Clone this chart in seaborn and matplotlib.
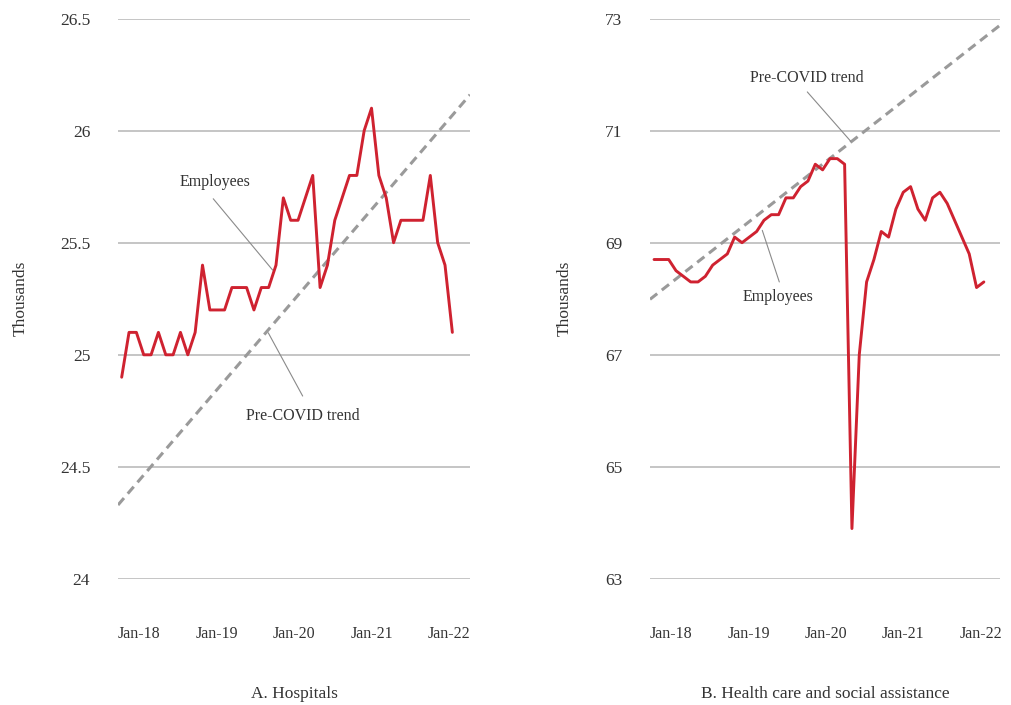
import numpy as np
import pandas as pd
import matplotlib
matplotlib.use("Agg")
import matplotlib.pyplot as plt
import seaborn as sns

# ---------------- data ----------------
months = list(range(46))  # Jan-2018 ... Oct-2021 (monthly index)

hospitals = [24.9, 25.1, 25.1, 25.0, 25.0, 25.1, 25.0, 25.0, 25.1, 25.0, 25.1,
             25.4, 25.2, 25.2, 25.2, 25.3, 25.3, 25.3, 25.2, 25.3, 25.3, 25.4,
             25.7, 25.6, 25.6, 25.7, 25.8,
             25.3, 25.4, 25.6, 25.7, 25.8, 25.8, 26.0, 26.1,
             25.8, 25.7, 25.5, 25.6, 25.6, 25.6, 25.6, 25.8, 25.5, 25.4, 25.1]

health = [68.7, 68.7, 68.7, 68.5, 68.4, 68.3, 68.3, 68.4, 68.6, 68.7, 68.8,
          69.1, 69.0, 69.1, 69.2, 69.4, 69.5, 69.5, 69.8, 69.8, 70.0, 70.1,
          70.4, 70.3, 70.5, 70.5, 70.4, 63.9, 67.0, 68.3, 68.7, 69.2, 69.1,
          69.6, 69.9, 70.0, 69.6, 69.4, 69.8, 69.9, 69.7, 69.4, 69.1, 68.8,
          68.2, 68.3]

# pre-COVID trend lines (end points over the shown range)
hosp_trend_x = [-0.5, 47.4]
hosp_trend_y = [24.33, 26.16]
health_trend_x = [-0.55, 47.2]
health_trend_y = [67.99, 72.88]

tick_labels = ["Jan-18", "Jan-19", "Jan-20", "Jan-21", "Jan-22"]
tick_pos = [2.3, 12.9, 23.45, 34.0, 44.6]

hosp_yticks = [24, 24.5, 25, 25.5, 26, 26.5]
hosp_ylabels = ["24", "24.5", "25", "25.5", "26", "26.5"]
health_yticks = [63, 65, 67, 69, 71, 73]

titles = ["A. Hospitals", "B. Health care and social assistance"]

# ---------------- style ----------------
sns.set_style("white")
plt.rcParams['font.family'] = ['Liberation Serif', 'DejaVu Serif']

RED = '#cf2230'
TREND = '#9a9a9a'
GRID = '#c0c0c0'
TXT = '#333333'
LEAD = '#8a8a8a'

fig = plt.figure(figsize=(10.11, 7.05), dpi=100)
axL = fig.add_axes([118/1011, (705-579)/705, 352/1011, 560.5/705])
axR = fig.add_axes([650/1011, (705-579)/705, 350/1011, 560.5/705])

df_h = pd.DataFrame({"month": months, "value": hospitals})
df_s = pd.DataFrame({"month": months, "value": health})
df_ht = pd.DataFrame({"month": hosp_trend_x, "value": hosp_trend_y})
df_st = pd.DataFrame({"month": health_trend_x, "value": health_trend_y})

def setup(ax, yticks, ylabels, ylim, xlim, title, ylab_x):
    ax.set_xlim(*xlim)
    ax.set_ylim(*ylim)
    ax.set_yticks(yticks)
    ax.set_yticklabels(ylabels)
    ax.set_xticks(tick_pos)
    ax.set_xticklabels(tick_labels)
    for s in ax.spines.values():
        s.set_visible(False)
    ax.grid(False)
    for yv in yticks:
        ax.axhline(yv, color=GRID, lw=1.3, zorder=0)
    ax.tick_params(axis='x', length=0, pad=33.5, labelsize=11.5, labelcolor=TXT)
    ax.tick_params(axis='y', length=0, pad=20, labelsize=12.5, labelcolor=TXT)
    ax.set_ylabel("Thousands", fontsize=12.5, color=TXT)
    ax.yaxis.set_label_coords(ylab_x, 0.5)
    ax.set_xlabel(title, fontsize=12.5, color=TXT)
    ax.xaxis.label.set_va('center')
    ax.xaxis.set_label_coords(0.5, -0.205)

# Left panel
sns.lineplot(data=df_ht, x="month", y="value", ax=axL, color=TREND, lw=2.2,
             linestyle=(0, (3.0, 1.9)), zorder=2)
sns.lineplot(data=df_h, x="month", y="value", ax=axL, color=RED, lw=2.1, zorder=3)
setup(axL, hosp_yticks, hosp_ylabels, (24, 26.5), (-0.5, 47.4), titles[0], -0.255)

# Right panel
sns.lineplot(data=df_st, x="month", y="value", ax=axR, color=TREND, lw=2.2,
             linestyle=(0, (3.0, 1.9)), zorder=2)
sns.lineplot(data=df_s, x="month", y="value", ax=axR, color=RED, lw=2.1, zorder=3)
setup(axR, health_yticks, [str(v) for v in health_yticks], (63, 73), (-0.55, 47.2),
      titles[1], -0.22)

# annotations
def label(ax, text, txy, start, end):
    ax.text(txy[0], txy[1], text, ha='center', va='center', fontsize=11.5, color=TXT)
    ax.annotate('', xy=end, xytext=start,
                arrowprops=dict(arrowstyle='-', color=LEAD, lw=0.8,
                                shrinkA=0, shrinkB=0))

label(axL, "Employees", (12.69, 25.772), (12.46, 25.696), (20.54, 25.378))
label(axL, "Pre-COVID trend", (24.71, 24.726), (19.95, 25.098), (24.63, 24.816))
label(axR, "Pre-COVID trend", (20.83, 71.94), (20.91, 71.69), (26.83, 70.81))
label(axR, "Employees", (16.96, 68.03), (17.09, 68.30), (14.77, 69.22))

fig.savefig("out.png", dpi=100)
